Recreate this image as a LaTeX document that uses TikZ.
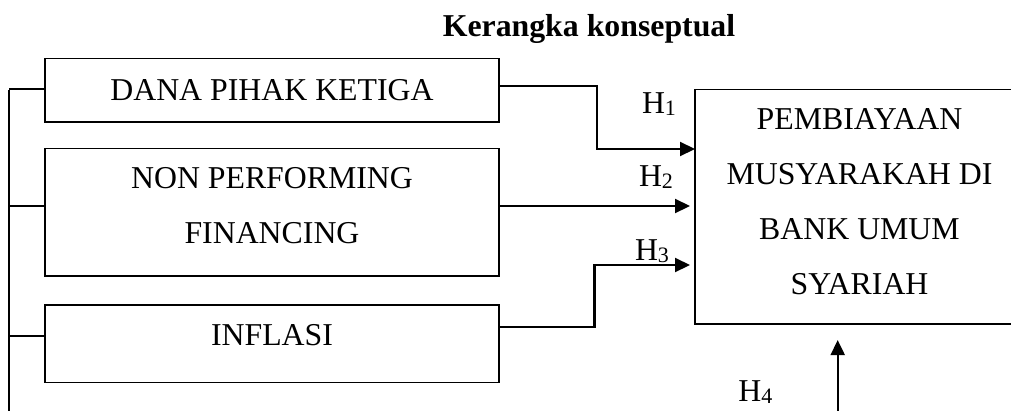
\documentclass[tikz,border=0pt]{standalone}
\usepackage{fontspec}
\setmainfont{Liberation Serif}
\usetikzlibrary{arrows.meta}
\newcommand{\Hsub}[1]{H\raisebox{-0.06em}{\fontsize{22}{22}\selectfont #1}}
\begin{document}
\begin{tikzpicture}[x=1pt,y=-1pt,
  every node/.style={font=\fontsize{31.8}{55}\selectfont, inner sep=0pt, outer sep=0pt},
  box/.style={draw, line width=1.6pt, rectangle},
  conn/.style={line width=2.1pt},
  arr/.style={conn, -{Triangle[length=15pt,width=14pt]}},
  lbl/.style={anchor=base west},
]
\useasboundingbox (0,0) rectangle (1011,410);
\clip (0,0) rectangle (1011,410);

% title
\node[anchor=base, font=\fontsize{31.8}{38}\selectfont\bfseries] (title) at (589,36) {Kerangka konseptual};

% left boxes
\node[box, minimum width=454pt, minimum height=63.4pt] (b1) at (272,90) {};
\node[anchor=base] (t1) at (272,100) {DANA PIHAK KETIGA};
\node[box, minimum width=454pt, minimum height=127.4pt] (b2) at (272,212) {};
\node[align=center] (t2) at (272,205.3) {NON PERFORMING\\FINANCING};
\node[box, minimum width=454pt, minimum height=77.3pt] (b3) at (272,343.7) {};
\node[anchor=base] (t3) at (272,345) {INFLASI};

% right box
\node[box, minimum width=329pt, minimum height=234.7pt] (big) at (859.5,206.7) {};
\node[align=center] (tbig) at (859.5,202) {PEMBIAYAAN\\MUSYARAKAH DI\\BANK UMUM\\SYARIAH};

% left bus
\coordinate (bt) at (9,89);
\coordinate (bb) at (9,412);
\draw[conn] (b1.west -| bt) -- (bb);
\draw[conn] ([yshift=1pt]b1.west) -- ([yshift=1pt]b1.west -| bt);
\draw[conn] ([yshift=6pt]b2.west) -- ([yshift=6pt]b2.west -| bt);
\draw[conn] ([yshift=7.7pt]b3.west) -- ([yshift=7.7pt]b3.west -| bt);

% connectors
\coordinate (j1) at (597,149);
\coordinate (j3) at (594.5,265);
\draw[arr] ([yshift=4pt]b1.east) -| (j1) -- (j1 -| big.west);
\draw[arr, shorten >=5pt] ([yshift=6pt]b2.east) -- ([yshift=6pt]b2.east -| big.west);
\draw[arr, shorten >=5pt] ([yshift=16.7pt]b3.east) -| (j3) -- (j3 -| big.west);
\coordinate (h4s) at (837.7,412);
\draw[arr, shorten >=16pt] (h4s) -- (h4s |- big.south);

% labels
\node[lbl] (h1) at (642,113.3) {\Hsub{1}};
\node[lbl] (h2) at (639,186.7) {\Hsub{2}};
\node[lbl] (h3) at (635,260.7) {\Hsub{3}};
\node[lbl] (h4) at (738.3,401.5) {\Hsub{4}};
\end{tikzpicture}
\end{document}
